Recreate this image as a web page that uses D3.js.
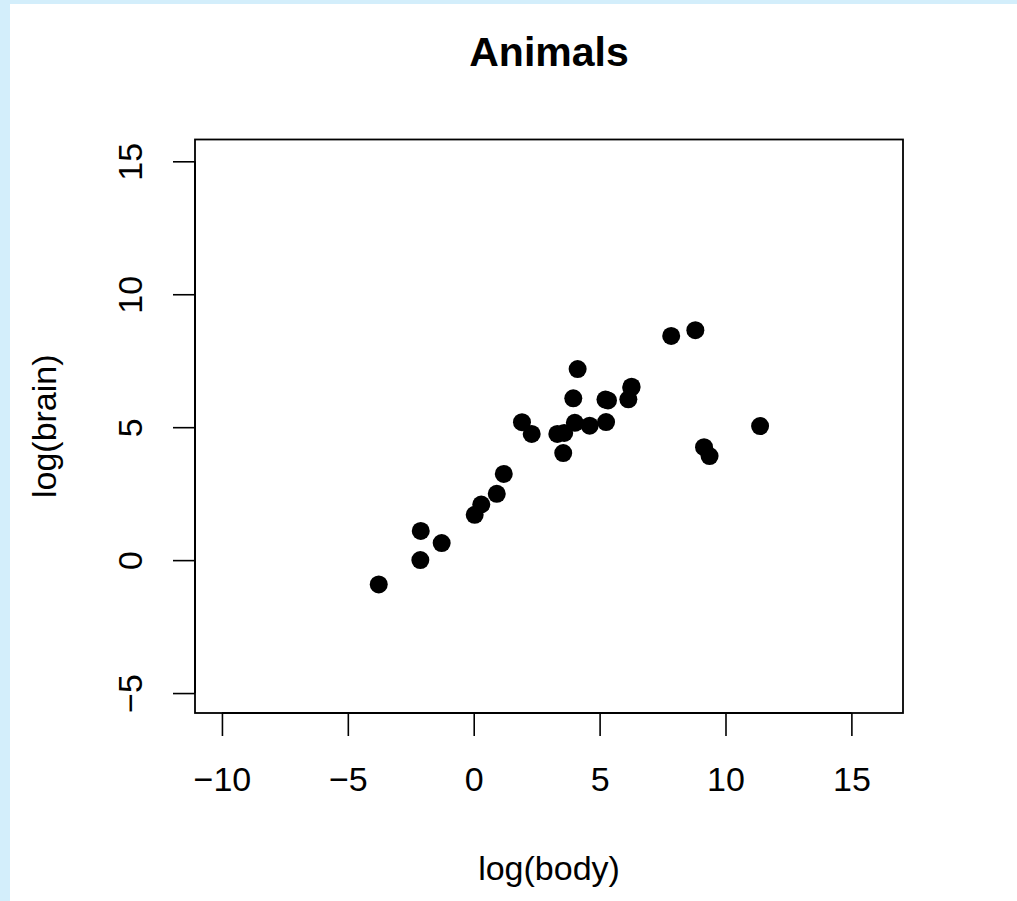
<!DOCTYPE html>
<html>
<head>
<meta charset="utf-8">
<title>Animals</title>
<script src="https://cdn.jsdelivr.net/npm/d3@7"></script>
<style>
  body { margin: 0; background: #d3eefb; }
  text { font-family: "Liberation Sans", Arial, Helvetica, sans-serif; fill: #000; }
</style>
</head>
<body>
<script>
// DATA: log(body) and log(brain) for the 28 animals
var animals = ["Mountain beaver", "Cow", "Grey wolf", "Goat", "Guinea pig", "Dipliodocus",
  "Asian elephant", "Donkey", "Horse", "Potar monkey", "Cat", "Giraffe", "Gorilla", "Human",
  "African elephant", "Triceratops", "Rhesus monkey", "Kangaroo", "Golden hamster", "Mouse",
  "Rabbit", "Sheep", "Jaguar", "Chimpanzee", "Rat", "Brachiosaurus", "Mole", "Pig"];
var logBody = [0.300, 6.142, 3.593, 3.320, 0.039, 9.367, 7.843, 5.232, 6.256, 2.303, 1.194,
  6.271, 5.333, 4.127, 8.803, 9.148, 1.917, 3.555, -2.120, -3.772, 0.916, 4.016, 4.605,
  3.954, -1.273, 11.374, -2.104, 5.257];
var logBrain = [2.092, 6.047, 4.783, 4.745, 1.705, 3.912, 8.434, 6.038, 6.485, 4.745, 3.243,
  6.522, 6.006, 7.185, 8.650, 4.248, 5.187, 4.025, 0.000, -0.916, 2.493, 5.165, 5.056,
  6.087, 0.642, 5.040, 1.099, 5.193];
var xTicks = [-10, -5, 0, 5, 10, 15];
var yTicks = [-5, 0, 5, 10, 15];

var W = 1017, H = 901;
var box = {left: 195, top: 139.5, right: 903, bottom: 713};

var x = d3.scaleLinear().domain([-11.07, 17.05]).range([box.left, box.right]);
var y = d3.scaleLinear().domain([-5.75, 15.82]).range([box.bottom, box.top]);

var svg = d3.select("body").append("svg")
  .attr("width", W)
  .attr("height", H)
  .style("display", "block");

// white page inside the blue frame
svg.append("rect")
  .attr("x", 10).attr("y", 4)
  .attr("width", W - 10).attr("height", H - 4)
  .attr("fill", "#fff");

// x axis
var xg = svg.append("g")
  .attr("transform", "translate(0," + box.bottom + ")")
  .call(d3.axisBottom(x).tickValues(xTicks).tickSize(23).tickSizeOuter(0));
xg.select(".domain").remove();
xg.append("line")
  .attr("x1", x(xTicks[0])).attr("x2", x(xTicks[xTicks.length - 1]))
  .attr("stroke", "#000").attr("stroke-width", 2);
xg.selectAll(".tick line").attr("stroke-width", 1.6);
xg.selectAll(".tick text")
  .attr("y", 78).attr("dy", null)
  .style("font-size", "34px")
  .style("font-family", "'Liberation Sans', Arial, sans-serif");

// y axis
var yg = svg.append("g")
  .attr("transform", "translate(" + box.left + ",0)")
  .call(d3.axisLeft(y).tickValues(yTicks).tickSize(22).tickSizeOuter(0));
yg.select(".domain").remove();
yg.append("line")
  .attr("y1", y(yTicks[0])).attr("y2", y(yTicks[yTicks.length - 1]))
  .attr("stroke", "#000").attr("stroke-width", 2);
yg.selectAll(".tick line").attr("stroke-width", 1.6);
yg.selectAll(".tick text")
  .attr("x", 0).attr("y", -53).attr("dy", null)
  .attr("transform", "rotate(-90)")
  .attr("text-anchor", "middle")
  .style("font-size", "34px")
  .style("font-family", "'Liberation Sans', Arial, sans-serif");

// plot box
svg.append("rect")
  .attr("x", box.left).attr("y", box.top)
  .attr("width", box.right - box.left).attr("height", box.bottom - box.top)
  .attr("fill", "none").attr("stroke", "#000").attr("stroke-width", 1.8);

// points
svg.append("g").selectAll("circle")
  .data(animals)
  .enter().append("circle")
  .attr("cx", function(d, i) { return x(logBody[i]); })
  .attr("cy", function(d, i) { return y(logBrain[i]); })
  .attr("r", 9)
  .attr("fill", "#000");

// title and axis labels
svg.append("text")
  .attr("x", (box.left + box.right) / 2).attr("y", 66)
  .attr("text-anchor", "middle")
  .style("font-size", "41px").style("font-weight", "bold")
  .text("Animals");

svg.append("text")
  .attr("x", (box.left + box.right) / 2).attr("y", 880)
  .attr("text-anchor", "middle")
  .style("font-size", "34px")
  .text("log(body)");

svg.append("text")
  .attr("transform", "translate(56," + (box.top + box.bottom) / 2 + ") rotate(-90)")
  .attr("text-anchor", "middle")
  .style("font-size", "34px")
  .text("log(brain)");
</script>
</body>
</html>
